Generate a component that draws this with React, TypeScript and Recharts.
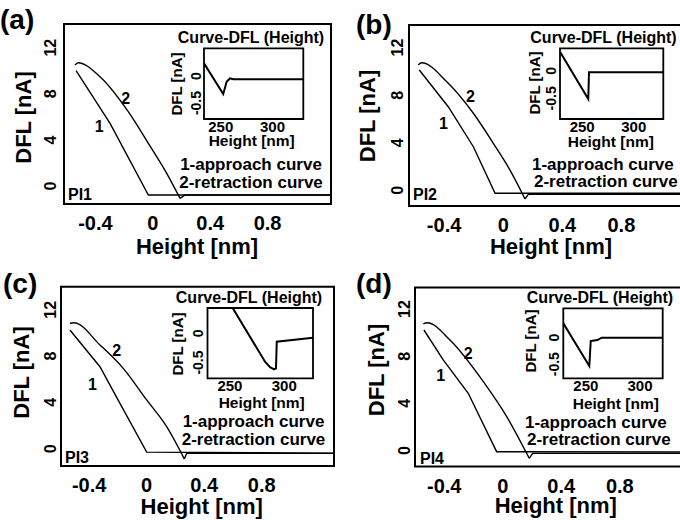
import React from 'react';
import { LineChart, Line, XAxis, YAxis, ReferenceArea, ReferenceDot } from 'recharts';

const FONT = '"Liberation Sans", Arial, Helvetica, sans-serif';
const CW = 700;
const CH = 520;

// ---------- tick values & labels ----------
const mainXTicks = [-0.4, 0, 0.4, 0.8];
const mainYTicks = [0, 4, 8, 12];
const insetXTicks = [250, 300];
const insetYTicks = [0, -0.5];

const panelLetters = ['(a)', '(b)', '(c)', '(d)'];
const sampleNames = ['PI1', 'PI2', 'PI3', 'PI4'];
const legendLines = ['1-approach curve', '2-retraction curve'];
const curveTags = ['1', '2'];
const mainXTitle = 'Height [nm]';
const mainYTitle = 'DFL [nA]';
const insetTitle = 'Curve-DFL (Height)';
const insetXTitle = 'Height [nm]';
const insetYTitle = 'DFL [nA]';

// ---------- panel (a) PI1 ----------
const approachA = [
  { h: -0.535, dfl: 10.0 },
  { h: -0.298, dfl: 5.44 },
  { h: -0.031, dfl: -0.77 },
  { h: 1.242, dfl: -0.77 },
];
const retractionA = [
  { h: -0.542, dfl: 10.49 },
  { h: -0.521, dfl: 10.69 },
  { h: -0.368, dfl: 9.48 },
  { h: -0.171, dfl: 6.45 },
  { h: -0.031, dfl: 3.71 },
  { h: 0.097, dfl: 1.11 },
  { h: 0.19, dfl: -1.06 },
  { h: 0.224, dfl: -0.77 },
  { h: 1.242, dfl: -0.77 },
];
const insetA = [
  { h: 233.8, dfl: 0.235 },
  { h: 252.4, dfl: -0.333 },
  { h: 255.7, dfl: -0.105 },
  { h: 258.9, dfl: -0.043 },
  { h: 262.1, dfl: -0.061 },
  { h: 329.8, dfl: -0.061 },
];

// ---------- panel (b) PI2 ----------
const approachB = [
  { h: -0.568, dfl: 10.12 },
  { h: -0.372, dfl: 7.03 },
  { h: -0.202, dfl: 3.67 },
  { h: -0.055, dfl: -0.24 },
  { h: 1.264, dfl: -0.24 },
];
const retractionB = [
  { h: -0.575, dfl: 10.54 },
  { h: -0.552, dfl: 10.73 },
  { h: -0.382, dfl: 9.13 },
  { h: -0.202, dfl: 6.48 },
  { h: -0.067, dfl: 3.96 },
  { h: 0.046, dfl: 1.71 },
  { h: 0.148, dfl: -0.72 },
  { h: 0.17, dfl: -0.33 },
  { h: 1.264, dfl: -0.33 },
];
const insetB = [
  { h: 228.5, dfl: 0.347 },
  { h: 255.9, dfl: -0.513 },
  { h: 256.6, dfl: -0.027 },
  { h: 328.6, dfl: -0.027 },
];

// ---------- panel (c) PI3 ----------
const approachC = [
  { h: -0.534, dfl: 10.25 },
  { h: -0.325, dfl: 7.08 },
  { h: -0.186, dfl: 3.92 },
  { h: 0.0, dfl: -0.3 },
  { h: 1.303, dfl: -0.38 },
];
const retractionC = [
  { h: -0.534, dfl: 10.83 },
  { h: -0.506, dfl: 10.88 },
  { h: -0.325, dfl: 8.96 },
  { h: -0.163, dfl: 6.94 },
  { h: 0.0, dfl: 4.21 },
  { h: 0.139, dfl: 1.9 },
  { h: 0.262, dfl: -0.89 },
  { h: 0.278, dfl: -0.4 },
  { h: 1.303, dfl: -0.4 },
];
const insetC = [
  { h: 252.5, dfl: 0.433 },
  { h: 282.3, dfl: -0.486 },
  { h: 286.9, dfl: -0.58 },
  { h: 290.6, dfl: -0.616 },
  { h: 292.4, dfl: -0.6 },
  { h: 293.1, dfl: -0.144 },
  { h: 326.5, dfl: -0.075 },
];

// ---------- panel (d) PI4 ----------
const approachD = [
  { h: -0.539, dfl: 10.22 },
  { h: -0.407, dfl: 7.68 },
  { h: -0.236, dfl: 4.85 },
  { h: -0.042, dfl: -0.1 },
  { h: 1.28, dfl: -0.13 },
];
const retractionD = [
  { h: -0.543, dfl: 10.73 },
  { h: -0.516, dfl: 10.84 },
  { h: -0.361, dfl: 9.37 },
  { h: -0.133, dfl: 5.84 },
  { h: 0.027, dfl: 2.87 },
  { h: 0.181, dfl: -0.66 },
  { h: 0.204, dfl: -0.24 },
  { h: 1.28, dfl: -0.24 },
];
const insetD = [
  { h: 229.2, dfl: 0.266 },
  { h: 253.2, dfl: -0.534 },
  { h: 254.5, dfl: -0.066 },
  { h: 260.6, dfl: -0.047 },
  { h: 264.7, dfl: -0.004 },
  { h: 320.9, dfl: -0.004 },
];

// curve tag anchor points (data units) for "1" and "2"
const tagsA = [{ h: -0.373, dfl: 5.15 }, { h: -0.189, dfl: 7.61 }];
const tagsB = [{ h: -0.405, dfl: 5.64 }, { h: -0.221, dfl: 7.87 }];
const tagsC = [{ h: -0.377, dfl: 5.57 }, { h: -0.209, dfl: 8.45 }];
const tagsD = [{ h: -0.424, dfl: 6.4 }, { h: -0.236, dfl: 8.24 }];

// ---------- layout (positions / sizes only) ----------
const panels = [
  {
    approach: approachA, retraction: retractionA, inset: insetA, tags: tagsA,
    frame: { l: 64, t: 24, r: 331, b: 204 }, xDomain: [-0.619, 1.242], yDomain: [-1.551, 14.047], yTickDx: 13,
    inFrame: { l: 204, t: 48.3, r: 303.3, b: 119 }, inX: [233.8, 329.8], inY: [-0.796, 0.513], inYTickDx: 8,
    letter: [0, 29], xTitle: [197, 254], yTitle: [23, 117.5], pi: [68, 200],
    legend: { anchor: 'middle', x: [251, 251], y: [170, 188] }, title: [251, 43],
    inXTitle: [251.7, 146], inYTitle: [176, 84],
  },
  {
    approach: approachB, retraction: retractionB, inset: insetB, tags: tagsB,
    frame: { l: 409, t: 25, r: 690, b: 206 }, xDomain: [-0.6376, 1.2643], yDomain: [-1.311, 13.899], yTickDx: 11,
    inFrame: { l: 560, t: 48.3, r: 663.3, b: 119 }, inX: [228.5, 328.6], inY: [-0.876, 0.41], inYTickDx: 9,
    letter: [356, 34], xTitle: [551, 254], yTitle: [367.5, 116], pi: [413, 200],
    legend: { anchor: 'start', x: [532, 534], y: [170, 187] }, title: [603.5, 43],
    inXTitle: [610.8, 147], inYTitle: [534, 83],
  },
  {
    approach: approachC, retraction: retractionC, inset: insetC, tags: tagsC,
    frame: { l: 61, t: 286.7, r: 334, b: 466 }, xDomain: [-0.596, 1.303], yDomain: [-1.494, 13.99], yTickDx: 10,
    inFrame: { l: 207.5, t: 308, r: 313, b: 378.3 }, inX: [229.3, 326.5], inY: [-0.77, 0.433], inYTickDx: 9,
    letter: [3, 293], xTitle: [201.7, 514], yTitle: [21.7, 372.5], pi: [65, 463],
    legend: { anchor: 'middle', x: [253.5, 253.5], y: [427, 444.5] }, title: [249, 302.7],
    inXTitle: [261.7, 408], inYTitle: [177.5, 344],
  },
  {
    approach: approachD, retraction: retractionD, inset: insetD, tags: tagsD,
    frame: { l: 415, t: 287.5, r: 690, b: 466.5 }, xDomain: [-0.6, 1.28], yDomain: [-1.357, 13.825], yTickDx: 10,
    inFrame: { l: 563.3, t: 308.3, r: 662.7, b: 378.3 }, inX: [229.2, 320.9], inY: [-0.764, 0.547], inYTickDx: 9,
    letter: [356, 293], xTitle: [555.8, 513], yTitle: [376.7, 370], pi: [420, 464],
    legend: { anchor: 'start', x: [525, 527], y: [428, 444.5] }, title: [600, 302.7],
    inXTitle: [615.8, 409], inYTitle: [530.8, 341],
  },
];

const txt = { fontFamily: FONT, fontWeight: 'bold' as const, fill: '#000' };

// index of the adhesion dip (lowest DFL) of a retraction series
const dipIndex = (s: { h: number; dfl: number }[]) =>
  s.reduce((best, d, i) => (d.dfl < s[best].dfl ? i : best), 0);

// axes need a size > 0 to render their ticks; 1px is reserved and taken out of the margin
function MainChart({ p }: { p: any }) {
  const f = p.frame;
  const k = dipIndex(p.retraction);
  const upper = p.retraction.slice(0, k + 1);
  const lower = p.retraction.slice(k);
  const xt = (props: any) => (
    <text x={props.x} y={f.b + 26} textAnchor="middle" fontSize={20} {...txt}>
      {String(props.payload.value)}
    </text>
  );
  const yt = (props: any) => {
    const cx = f.l - p.yTickDx;
    return (
      <text x={cx} y={props.y} transform={`rotate(-90 ${cx} ${props.y})`} textAnchor="middle" dominantBaseline="central" fontSize={16} {...txt}>
        {String(props.payload.value)}
      </text>
    );
  };
  return (
    <div style={{ position: 'absolute', left: 0, top: 0 }}>
      <LineChart width={CW} height={CH} margin={{ top: f.t, left: f.l - 1, right: CW - f.r, bottom: CH - f.b - 1 }}>
        <XAxis type="number" dataKey="h" domain={p.xDomain} allowDataOverflow ticks={mainXTicks} interval={0}
          height={1} axisLine={false} tickLine={false} tickSize={0} tickMargin={0} tick={xt} />
        <YAxis type="number" dataKey="dfl" domain={p.yDomain} allowDataOverflow ticks={mainYTicks} interval={0}
          width={1} axisLine={false} tickLine={false} tickSize={0} tickMargin={0} tick={yt} />
        <ReferenceArea x1={p.xDomain[0]} x2={p.xDomain[1]} y1={p.yDomain[0]} y2={p.yDomain[1]}
          fill="none" fillOpacity={0} stroke="#000" strokeWidth={2} ifOverflow="visible" />
        <Line data={p.approach} dataKey="dfl" type="linear" stroke="#000" strokeWidth={1.4} dot={false} isAnimationActive={false} />
        <Line data={upper} dataKey="dfl" type="monotone" stroke="#000" strokeWidth={1.4} dot={false} isAnimationActive={false} />
        <Line data={lower} dataKey="dfl" type="linear" stroke="#000" strokeWidth={1.4} dot={false} isAnimationActive={false} />
        {p.tags.map((t: any, i: number) => (
          <ReferenceDot key={i} x={t.h} y={t.dfl} r={0} ifOverflow="visible"
            shape={(s: any) => (
              <text x={s.cx} y={s.cy} textAnchor="middle" dominantBaseline="central" fontSize={16} {...txt}>{curveTags[i]}</text>
            )} />
        ))}
      </LineChart>
    </div>
  );
}

function InsetChart({ p }: { p: any }) {
  const f = p.inFrame;
  const xt = (props: any) => (
    <text x={props.x} y={f.b + 13} textAnchor="middle" fontSize={15} {...txt}>
      {String(props.payload.value)}
    </text>
  );
  const yt = (props: any) => {
    const cx = f.l - p.inYTickDx;
    return (
      <text x={cx} y={props.y} transform={`rotate(-90 ${cx} ${props.y})`} textAnchor="middle" dominantBaseline="central" fontSize={14} {...txt}>
        {String(props.payload.value)}
      </text>
    );
  };
  return (
    <div style={{ position: 'absolute', left: 0, top: 0 }}>
      <LineChart width={CW} height={CH} margin={{ top: f.t, left: f.l - 1, right: CW - f.r, bottom: CH - f.b - 1 }}>
        <XAxis type="number" dataKey="h" domain={p.inX} allowDataOverflow ticks={insetXTicks} interval={0}
          height={1} axisLine={false} tickLine={false} tickSize={0} tickMargin={0} tick={xt} />
        <YAxis type="number" dataKey="dfl" domain={p.inY} allowDataOverflow ticks={insetYTicks} interval={0}
          width={1} axisLine={false} tickLine={false} tickSize={0} tickMargin={0} tick={yt} />
        <ReferenceArea x1={p.inX[0]} x2={p.inX[1]} y1={p.inY[0]} y2={p.inY[1]}
          fill="#fff" fillOpacity={1} stroke="#000" strokeWidth={1.8} ifOverflow="visible" />
        <Line data={p.inset} dataKey="dfl" type="linear" stroke="#000" strokeWidth={2} dot={false} isAnimationActive={false} />
      </LineChart>
    </div>
  );
}

function Texts() {
  return (
    <svg width={680} height={520} style={{ position: 'absolute', left: 0, top: 0, pointerEvents: 'none' }}>
      {panels.map((p, i) => (
        <g key={i}>
          <text x={p.letter[0]} y={p.letter[1]} fontSize={28} {...txt}>{panelLetters[i]}</text>
          <text x={p.xTitle[0]} y={p.xTitle[1]} textAnchor="middle" fontSize={22} {...txt}>{mainXTitle}</text>
          <text x={p.yTitle[0]} y={p.yTitle[1]} transform={`rotate(-90 ${p.yTitle[0]} ${p.yTitle[1]})`}
            textAnchor="middle" dominantBaseline="central" fontSize={22} {...txt}>{mainYTitle}</text>
          <text x={p.pi[0]} y={p.pi[1]} fontSize={16} {...txt}>{sampleNames[i]}</text>
          {legendLines.map((l, j) => (
            <text key={j} x={p.legend.x[j]} y={p.legend.y[j]} textAnchor={p.legend.anchor as any} fontSize={17} {...txt}>{l}</text>
          ))}
          <text x={p.title[0]} y={p.title[1]} textAnchor="middle" fontSize={16} {...txt}>{insetTitle}</text>
          <text x={p.inXTitle[0]} y={p.inXTitle[1]} textAnchor="middle" fontSize={15.5} {...txt}>{insetXTitle}</text>
          <text x={p.inYTitle[0]} y={p.inYTitle[1]} transform={`rotate(-90 ${p.inYTitle[0]} ${p.inYTitle[1]})`}
            textAnchor="middle" dominantBaseline="central" fontSize={15} {...txt}>{insetYTitle}</text>
        </g>
      ))}
    </svg>
  );
}

export default function App() {
  return (
    <div style={{ position: 'absolute', left: 0, top: 0, width: 680, height: 520, overflow: 'hidden', background: '#fff' }}>
      {panels.map((p, i) => <MainChart key={'m' + i} p={p} />)}
      {panels.map((p, i) => <InsetChart key={'i' + i} p={p} />)}
      <Texts />
    </div>
  );
}
